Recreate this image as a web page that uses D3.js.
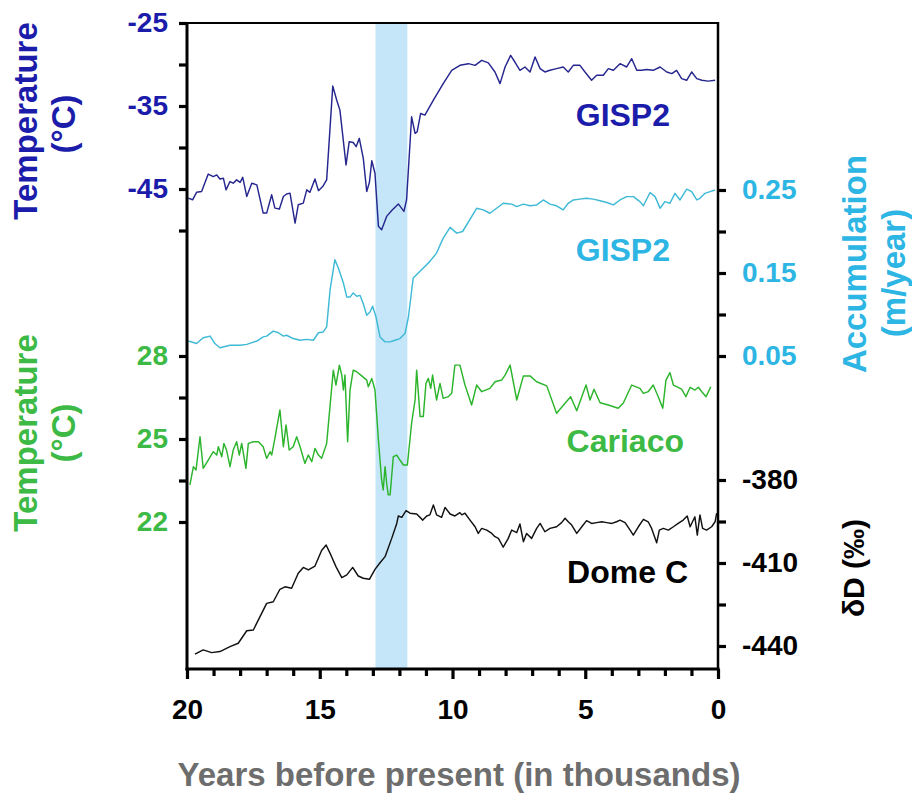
<!DOCTYPE html>
<html><head><meta charset="utf-8">
<script src="https://cdn.jsdelivr.net/npm/d3@7"></script>
<style>
body{margin:0;background:#fff}
svg{display:block}
text{font-family:"Liberation Sans",Arial,Helvetica,sans-serif;font-weight:bold}
</style>
</head><body>
<svg id="chart" width="912" height="795"></svg>
<script>
// ---------- DATA (years before present, thousands) ----------
const gispTempYears = [19.95,19.79,19.64,19.45,19.20,19.01,18.88,18.76,18.63,18.53,18.38,18.26,18.13,18.00,17.90,17.75,17.56,17.37,17.13,17.00,16.81,16.69,16.52,16.37,16.25,16.12,15.93,15.81,15.62,15.49,15.37,15.18,15.05,14.89,14.74,14.51,14.36,14.24,14.01,13.89,13.74,13.63,13.51,13.36,13.23,13.13,13.04,12.92,12.79,12.67,12.48,12.29,12.04,11.83,11.73,11.54,11.41,11.33,11.20,11.04,10.72,10.35,10.03,9.72,9.40,9.15,8.90,8.65,8.40,8.21,8.02,7.81,7.65,7.46,7.27,7.08,6.89,6.70,6.52,6.33,6.08,5.83,5.64,5.45,5.20,5.01,4.76,4.57,4.32,4.13,3.94,3.69,3.44,3.25,3.06,2.87,2.69,2.44,2.18,1.93,1.74,1.56,1.37,1.18,0.99,0.80,0.61,0.37,0.11];
const gispTempValues = [-46.1,-46.3,-45.4,-45.3,-43.2,-43.5,-43.3,-43.8,-43.7,-45.1,-44.1,-44.3,-43.9,-44.2,-43.6,-45.9,-44.3,-44.5,-47.9,-47.9,-45.7,-47.3,-47.4,-45.9,-45.6,-45.5,-49.1,-46.9,-46.7,-45.1,-45.4,-43.8,-45.2,-44.7,-43.9,-32.6,-34.3,-35.5,-42.1,-39.3,-39.4,-39.9,-38.9,-41.3,-45.3,-44.2,-41.6,-43.1,-49.5,-49.9,-48.3,-47.6,-46.8,-47.7,-46.3,-36.3,-38.3,-38.1,-35.9,-36.1,-34.3,-32.3,-30.7,-30.1,-29.9,-30.1,-29.5,-29.8,-30.9,-32.3,-30.3,-28.9,-29.7,-30.7,-30.3,-30.9,-29.1,-30.5,-30.9,-30.7,-30.5,-30.3,-30.9,-30.1,-30.1,-30.9,-31.9,-31.3,-31.3,-30.5,-30.7,-29.9,-30.3,-29.3,-30.7,-30.7,-30.6,-30.7,-30.3,-30.9,-31.1,-30.7,-31.7,-31.9,-30.9,-31.7,-31.9,-32.0,-31.9];

const gispAccYears = [19.95,19.64,19.39,19.13,18.95,18.76,18.38,18.00,17.75,17.37,17.13,17.00,16.75,16.56,16.37,16.25,16.00,15.74,15.49,15.24,15.05,14.87,14.74,14.61,14.43,14.30,14.11,13.98,13.86,13.74,13.61,13.48,13.36,13.23,13.11,13.01,12.88,12.73,12.54,12.35,12.17,11.98,11.79,11.66,11.48,11.29,11.10,10.85,10.60,10.35,10.09,9.84,9.62,9.09,8.84,8.59,8.34,8.09,7.77,7.58,7.33,7.08,6.83,6.58,6.33,6.08,5.83,5.64,5.45,5.20,4.95,4.70,4.44,4.19,3.94,3.69,3.44,3.19,2.94,2.81,2.56,2.37,2.18,2.00,1.81,1.62,1.43,1.18,0.99,0.80,0.68,0.49,0.30,0.11];
const gispAccValues = [0.068,0.065,0.072,0.074,0.065,0.060,0.063,0.063,0.064,0.068,0.073,0.074,0.080,0.078,0.074,0.075,0.071,0.069,0.070,0.069,0.078,0.079,0.085,0.130,0.166,0.156,0.138,0.121,0.121,0.126,0.122,0.123,0.113,0.099,0.103,0.110,0.097,0.073,0.067,0.067,0.069,0.071,0.077,0.097,0.144,0.150,0.156,0.164,0.174,0.192,0.205,0.198,0.200,0.228,0.226,0.222,0.228,0.234,0.233,0.230,0.233,0.231,0.232,0.238,0.233,0.231,0.226,0.234,0.238,0.239,0.240,0.239,0.237,0.235,0.232,0.238,0.242,0.242,0.236,0.231,0.247,0.242,0.228,0.236,0.234,0.246,0.238,0.251,0.248,0.238,0.240,0.246,0.248,0.250];

const cariacoYears = [19.89,19.76,19.66,19.51,19.39,19.20,19.01,18.88,18.82,18.69,18.61,18.51,18.38,18.26,18.13,18.03,17.94,17.78,17.69,17.50,17.31,17.13,17.00,16.87,16.81,16.69,16.50,16.37,16.27,16.15,16.00,15.87,15.74,15.56,15.43,15.30,15.18,15.05,14.93,14.74,14.49,14.39,14.26,14.17,14.11,14.05,13.95,13.86,13.74,13.61,13.42,13.23,13.17,13.04,12.92,12.79,12.67,12.61,12.54,12.48,12.42,12.35,12.23,12.10,11.98,11.85,11.70,11.54,11.41,11.35,11.22,11.10,11.00,10.91,10.82,10.75,10.60,10.47,10.35,10.16,10.03,9.91,9.72,9.53,9.28,9.09,8.90,8.59,8.40,8.15,8.02,7.83,7.58,7.33,7.08,6.83,6.45,6.08,5.76,5.55,5.32,5.13,4.97,4.82,4.67,4.44,4.13,3.76,3.57,3.25,2.94,2.81,2.63,2.44,2.25,2.08,1.96,1.81,1.68,1.56,1.37,1.21,1.05,0.87,0.74,0.61,0.45,0.27];
const cariacoValues = [23.34,24.00,23.88,25.08,23.94,24.24,24.54,24.42,24.72,24.36,24.84,24.60,24.00,24.60,24.90,24.42,24.84,23.94,24.84,24.90,24.90,24.72,24.30,24.54,24.42,25.02,26.05,24.72,25.51,24.60,24.72,25.08,24.72,24.12,24.42,24.18,24.66,24.42,24.30,24.84,27.49,26.95,27.67,27.31,26.77,27.31,24.90,26.77,27.49,27.43,27.28,27.13,26.89,27.19,26.77,24.96,23.52,23.16,24.00,23.40,22.98,22.98,24.36,24.42,24.24,24.06,24.06,25.57,26.41,27.49,25.81,25.81,27.01,27.19,26.83,27.31,26.41,27.01,26.47,26.53,26.65,27.67,27.67,26.95,26.23,26.95,26.71,26.83,27.07,27.13,27.31,27.67,26.41,27.28,27.28,27.07,26.92,25.93,26.29,26.53,26.02,26.53,26.95,26.41,26.80,26.31,26.23,26.11,26.29,26.95,26.83,26.65,26.71,26.95,26.53,26.11,27.13,27.40,26.95,26.89,26.80,26.53,26.87,26.77,26.87,26.71,26.53,26.89];

const domeCYears = [19.70,19.39,19.07,18.76,18.38,18.07,17.75,17.50,17.25,17.00,16.75,16.50,16.31,16.06,15.81,15.62,15.43,15.18,14.93,14.76,14.61,14.39,14.17,13.98,13.76,13.55,13.36,13.13,12.92,12.73,12.54,12.29,12.10,12.04,11.91,11.75,11.60,11.35,11.12,10.97,10.85,10.72,10.60,10.41,10.28,10.09,9.91,9.72,9.65,9.53,9.34,9.15,9.03,8.90,8.71,8.52,8.40,8.27,8.09,7.90,7.77,7.58,7.46,7.33,7.21,7.02,6.83,6.70,6.52,6.33,6.08,5.89,5.76,5.64,5.51,5.32,5.13,4.95,4.76,4.57,4.38,4.19,4.00,3.82,3.69,3.50,3.31,3.19,3.00,2.81,2.63,2.50,2.31,2.21,2.06,1.87,1.68,1.50,1.31,1.16,1.05,0.87,0.78,0.68,0.58,0.43,0.24,0.11,0.05];
const domeCValues = [-442.9,-441.4,-442.4,-442.0,-440.2,-439.0,-434.5,-434.2,-429.4,-424.6,-424.0,-419.5,-418.6,-419.1,-413.7,-411.6,-412.5,-411.1,-405.5,-403.5,-406.5,-411.3,-415.3,-414.3,-411.6,-414.7,-415.5,-415.9,-412.3,-409.9,-407.7,-401.1,-395.7,-393.0,-393.5,-391.1,-392.0,-392.3,-394.5,-393.0,-392.6,-389.0,-392.6,-393.5,-389.9,-392.3,-393.0,-391.8,-392.6,-392.0,-394.5,-396.9,-399.3,-397.5,-398.1,-399.3,-400.5,-401.1,-404.3,-401.1,-398.1,-399.0,-395.9,-402.3,-399.3,-401.1,-397.5,-395.7,-398.7,-397.5,-396.9,-395.4,-393.8,-395.1,-396.3,-399.3,-396.9,-394.7,-395.7,-395.4,-395.1,-395.4,-395.7,-395.1,-394.5,-395.4,-398.1,-399.9,-396.9,-394.2,-395.1,-397.5,-402.7,-398.1,-397.5,-398.1,-396.9,-395.7,-394.5,-393.0,-396.9,-393.3,-399.9,-392.6,-397.5,-398.1,-396.9,-395.1,-392.0];

// Younger Dryas band
const youngerDryas = [12.9, 11.7];

// tick values / labels
const xTicks = d3.range(20, -1, -1);
const xTickLabels = [20, 15, 10, 5, 0];
const tempTicks = [-25, -30, -35, -40, -45, -50];
const tempTickLabels = [-25, -35, -45];
const accTicks = [0.25, 0.20, 0.15, 0.10, 0.05];
const accTickLabels = [0.25, 0.15, 0.05];
const sstTicks = [28, 26.5, 25, 23.5, 22];
const sstTickLabels = [28, 25, 22];
const dDTicks = [-380, -395, -410, -425, -440];
const dDTickLabels = [-380, -410, -440];

// ---------- STYLE ----------
const C = {
  navyText: "#1c1cab", navyLine: "#26268f",
  cyanText: "#2db5e3", cyanLine: "#3fbad6",
  greenText: "#3cba45", greenLine: "#2cb52c",
  black: "#000", grey: "#6d6d6d", band: "#c5e5f8"
};
const L = 187, R = 718, T = 23, B = 669;

const svg = d3.select("#chart");
const x = d3.scaleLinear().domain([20, 0]).range([L, R]);
const yT = d3.scaleLinear().domain([-25, -50]).range([23, 230.5]);
const yA = d3.scaleLinear().domain([0.25, 0.05]).range([190, 356]);
const yC = d3.scaleLinear().domain([28, 22]).range([356, 522]);
const yD = d3.scaleLinear().domain([-380, -440]).range([480, 646]);

// band
svg.append("rect")
  .attr("x", x(youngerDryas[0])).attr("y", T)
  .attr("width", x(youngerDryas[1]) - x(youngerDryas[0]))
  .attr("height", B - T).attr("fill", C.band);

function series(years, vals, yScale, color) {
  const data = years.map((yr, i) => ({yr, v: vals[i]}));
  svg.append("path").datum(data)
    .attr("fill", "none").attr("stroke", color).attr("stroke-width", 1.45)
    .attr("stroke-linejoin", "round")
    .attr("d", d3.line().x(d => x(d.yr)).y(d => yScale(d.v)));
}
series(gispTempYears, gispTempValues, yT, C.navyLine);
series(gispAccYears, gispAccValues, yA, C.cyanLine);
series(cariacoYears, cariacoValues, yC, C.greenLine);
series(domeCYears, domeCValues, yD, "#111");

// frame
svg.append("line").attr("x1", L).attr("x2", R).attr("y1", T).attr("y2", T).attr("stroke", "#000").attr("stroke-width", 2);
svg.append("line").attr("x1", L).attr("x2", L).attr("y1", T - 1).attr("y2", B + 1.5).attr("stroke", "#000").attr("stroke-width", 3);
svg.append("line").attr("x1", R).attr("x2", R).attr("y1", T - 1).attr("y2", B + 1.5).attr("stroke", "#000").attr("stroke-width", 2.5);
svg.append("line").attr("x1", L - 1.5).attr("x2", R + 1.5).attr("y1", B).attr("y2", B).attr("stroke", "#000").attr("stroke-width", 3);

function styleAxis(g, color) {
  g.select(".domain").remove();
  g.selectAll(".tick line").attr("stroke", "#000").attr("stroke-width", 3.2);
  g.selectAll(".tick text").attr("fill", color).attr("font-size", 28)
    .attr("font-family", '"Liberation Sans",Arial,sans-serif').attr("font-weight", "bold");
}
function fmt(labels) { return d => labels.includes(d) ? String(d) : ""; }

svg.append("g").attr("transform", `translate(${L},0)`)
  .call(d3.axisLeft(yT).tickValues(tempTicks).tickFormat(fmt(tempTickLabels)).tickSize(8).tickPadding(11))
  .call(g => styleAxis(g, C.navyText));
svg.append("g").attr("transform", `translate(${L},0)`)
  .call(d3.axisLeft(yC).tickValues(sstTicks).tickFormat(fmt(sstTickLabels)).tickSize(8).tickPadding(11))
  .call(g => styleAxis(g, C.greenText));
svg.append("g").attr("transform", `translate(${R},0)`)
  .call(d3.axisRight(yA).tickValues(accTicks).tickFormat(d => accTickLabels.includes(d) ? d.toFixed(2) : "").tickSize(8).tickPadding(16))
  .call(g => styleAxis(g, C.cyanText));
svg.append("g").attr("transform", `translate(${R},0)`)
  .call(d3.axisRight(yD).tickValues(dDTicks).tickFormat(fmt(dDTickLabels)).tickSize(8).tickPadding(16))
  .call(g => styleAxis(g, "#000"));
svg.append("g").attr("transform", `translate(0,${B})`)
  .call(d3.axisBottom(x).tickValues(xTicks).tickFormat(fmt(xTickLabels)).tickSize(7).tickPadding(23))
  .call(g => {
    styleAxis(g, "#000");
    g.selectAll(".tick line").attr("y2", d => xTickLabels.includes(d) ? 10 : 7);
  });

// axis titles
function vtext(txt, bx, cy, size, color) {
  svg.append("text").attr("transform", `translate(${bx},${cy}) rotate(-90)`)
    .attr("text-anchor", "middle").attr("font-size", size).attr("fill", color).text(txt);
}
vtext("Temperature", 37, 121, 33, C.navyText);
vtext("(°C)", 75, 124, 33, C.navyText);
vtext("Temperature", 37, 433, 33, C.greenText);
vtext("(°C)", 75, 433, 33, C.greenText);
vtext("Accumulation", 866, 264, 33, C.cyanText);
vtext("(m/year)", 905, 273, 33, C.cyanText);
vtext("δD (‰)", 864, 568, 30, "#000");

svg.append("text").attr("x", 459).attr("y", 786).attr("text-anchor", "middle")
  .attr("font-size", 33).attr("fill", C.grey).text("Years before present (in thousands)");

// series labels
function label(txt, xr, yb, color) {
  svg.append("text").attr("x", xr).attr("y", yb).attr("text-anchor", "end")
    .attr("font-size", 32).attr("fill", color).text(txt);
}
label("GISP2", 670, 126, C.navyText);
label("GISP2", 670, 261, C.cyanText);
label("Cariaco", 684, 452, C.greenText);
label("Dome C", 688, 583, "#000");
</script>
</body></html>
